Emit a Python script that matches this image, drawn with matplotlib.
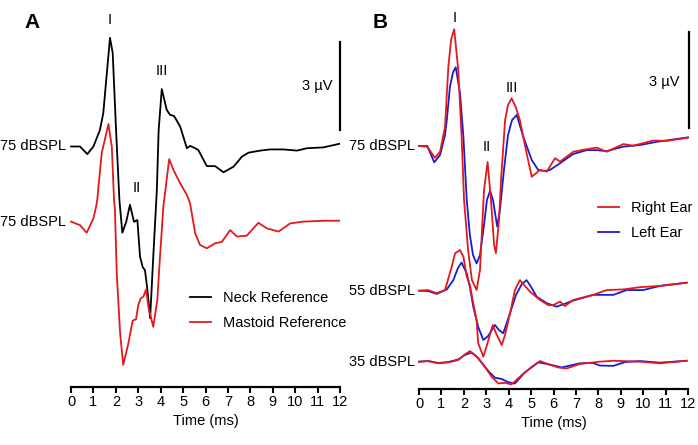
import matplotlib.pyplot as plt

plt.rcParams['font.family'] = ['Liberation Sans', 'DejaVu Sans']

# ---- Panel A: neck vs mastoid reference (75 dBSPL), time in ms, amplitude in uV
neck_t = [0.0, 0.40, 0.73, 1.00, 1.29, 1.44, 1.74, 1.86, 2.01, 2.16, 2.29, 2.46, 2.63, 2.81,
          2.96, 3.08, 3.20, 3.30, 3.41, 3.53, 3.67, 3.83, 3.91, 4.05, 4.27, 4.42, 4.60, 4.87,
          5.17, 5.31, 5.46, 5.68, 6.06, 6.43, 6.80, 7.25, 7.62, 7.92, 8.44, 8.88, 9.48, 10.08,
          10.52, 11.26, 11.96]
neck_v = [0.0, 0.0, -0.26, 0.0, 0.56, 1.14, 3.71, 3.19, 0.56, -1.83, -2.94, -2.58, -1.99, -2.57,
          -2.51, -3.76, -4.12, -4.22, -4.90, -5.86, -3.76, -1.48, 0.56, 1.96, 1.25, 1.08, 1.04, 0.68,
          -0.06, 0.02, -0.03, -0.12, -0.67, -0.67, -0.88, -0.69, -0.35, -0.21, -0.14, -0.10, -0.10, -0.14,
          -0.06, -0.03, 0.09]

mastoid_t = [0.0, 0.40, 0.70, 1.00, 1.12, 1.17, 1.37, 1.67, 1.82, 1.92, 1.96, 2.04, 2.19, 2.33,
             2.56, 2.75, 2.90, 3.00, 3.11, 3.23, 3.35, 3.45, 3.67, 3.85, 3.97, 4.12, 4.38, 4.57,
             4.87, 5.17, 5.31, 5.54, 5.76, 6.06, 6.43, 6.73, 7.10, 7.40, 7.84, 8.36, 8.74, 9.26,
             9.78, 10.37, 11.26, 11.96]
mastoid_v = [0.03, -0.09, -0.35, 0.14, 0.54, 0.77, 2.37, 3.36, 2.59, 0.77, 0.43, -1.72, -3.77, -4.86,
             -4.12, -3.35, -3.30, -2.82, -2.59, -2.53, -2.28, -2.87, -3.56, -2.65, -1.17, 0.54, 2.16, 1.79,
             1.34, 0.94, 0.66, -0.37, -0.77, -0.88, -0.71, -0.66, -0.26, -0.48, -0.45, -0.01, -0.20, -0.31,
             -0.03, 0.03, 0.06, 0.06]

# ---- Panel B: right vs left ear at three levels
r75_t = [0.0, 0.37, 0.71, 0.94, 1.16, 1.31, 1.43, 1.57, 1.75, 1.90, 2.01, 2.19, 2.36, 2.57, 2.72,
         2.90, 3.06, 3.21, 3.35, 3.43, 3.57, 3.66, 3.84, 3.97, 4.13, 4.33, 4.50, 4.80, 5.03, 5.40,
         5.70, 6.07, 6.29, 6.88, 7.48, 7.93, 8.37, 9.11, 9.56, 10.45, 11.05, 12.0]
r75_v = [0.0, -0.02, -0.37, -0.18, 0.60, 2.48, 3.31, 3.65, 2.38, 0.29, -1.69, -3.25, -4.19, -4.50, -3.88,
         -1.38, -0.50, -1.69, -3.09, -3.35, -2.31, -1.06, 0.81, 1.28, 1.49, 1.19, 0.81, -0.23, -0.96, -0.75,
         -0.80, -0.38, -0.49, -0.18, -0.10, -0.05, -0.18, 0.06, 0.01, 0.17, 0.16, 0.26]
l75_t = [0.0, 0.37, 0.68, 0.94, 1.16, 1.24, 1.38, 1.52, 1.64, 1.83, 1.98, 2.13, 2.27, 2.41, 2.57,
         2.72, 2.90, 3.03, 3.17, 3.30, 3.49, 3.61, 3.79, 3.97, 4.15, 4.36, 4.65, 5.03, 5.32, 5.62,
         5.84, 6.29, 6.88, 7.48, 7.93, 8.37, 9.11, 9.86, 10.60, 12.0]
l75_v = [0.0, 0.0, -0.51, -0.28, 0.34, 0.81, 1.85, 2.31, 2.46, 1.65, 0.29, -1.69, -2.78, -3.41, -3.67,
         -3.41, -2.47, -1.69, -1.40, -1.69, -2.52, -2.00, -0.75, 0.34, 0.81, 0.97, 0.29, -0.44, -0.75, -0.78,
         -0.75, -0.54, -0.25, -0.13, -0.13, -0.16, -0.02, 0.03, 0.13, 0.27]

r55_t = [0.0, 0.40, 0.79, 1.16, 1.46, 1.61, 1.83, 1.98, 2.13, 2.27, 2.42, 2.57, 2.64, 2.87, 3.03,
         3.29, 3.43, 3.69, 3.84, 4.06, 4.28, 4.50, 4.95, 5.40, 5.77, 5.99, 6.29, 6.51, 6.88, 7.77,
         8.37, 9.11, 9.86, 10.75, 11.94]
r55_v = [0.0, 0.02, -0.08, 0.02, 0.75, 1.17, 1.27, 1.06, 0.44, 0.18, -0.39, -0.92, -1.64, -2.06, -1.70,
         -1.07, -1.32, -1.70, -1.38, -0.71, 0.02, 0.33, -0.03, -0.29, -0.45, -0.45, -0.34, -0.48, -0.29, -0.13,
         0.02, 0.04, 0.11, 0.15, 0.25]
l55_t = [0.0, 0.40, 0.79, 1.24, 1.53, 1.74, 1.90, 2.13, 2.27, 2.42, 2.64, 2.87, 3.08, 3.39, 3.57,
         3.76, 4.06, 4.33, 4.59, 4.80, 5.00, 5.25, 5.70, 6.14, 6.88, 7.77, 8.67, 9.26, 10.00, 10.75, 11.94]
l55_v = [0.0, -0.01, -0.10, 0.04, 0.33, 0.71, 0.88, 0.54, 0.12, -0.50, -1.13, -1.54, -1.42, -1.07, -1.23,
         -1.33, -0.70, -0.13, 0.21, 0.33, 0.12, -0.19, -0.39, -0.50, -0.31, -0.13, -0.13, 0.02, 0.02, 0.15, 0.25]

r35_t = [0.0, 0.41, 0.86, 1.31, 1.75, 2.05, 2.27, 2.57, 2.94, 3.24, 3.54, 3.84, 4.13, 4.58, 5.03,
         5.40, 5.77, 6.21, 6.59, 7.18, 8.07, 8.67, 9.86, 10.75, 11.94]
r35_v = [0.0, 0.02, -0.05, -0.02, 0.05, 0.23, 0.33, 0.16, -0.16, -0.47, -0.68, -0.66, -0.71, -0.42, -0.16,
         0.02, -0.08, -0.18, -0.21, -0.07, 0.0, 0.03, 0.0, -0.05, 0.03]
l35_t = [0.0, 0.41, 0.86, 1.31, 1.75, 2.05, 2.35, 2.63, 3.09, 3.39, 3.69, 3.98, 4.28, 4.73, 5.32,
         5.84, 6.36, 7.18, 7.76, 8.07, 8.67, 9.19, 9.86, 10.75, 11.94]
l35_v = [0.0, 0.02, -0.04, -0.01, 0.07, 0.21, 0.29, 0.12, -0.29, -0.50, -0.54, -0.64, -0.68, -0.33, -0.02,
         -0.09, -0.18, -0.05, -0.04, -0.12, -0.13, -0.01, 0.02, -0.03, 0.03]

ticks = list(range(0, 13))
RED = '#e3191c'
BLUE = '#1b1bd0'

fig = plt.figure(figsize=(6.98, 4.45), dpi=100)
W, H = 698, 445

def style_axis(ax):
    for s in ['left', 'right', 'top']:
        ax.spines[s].set_visible(False)
    ax.spines['bottom'].set_linewidth(1.6)
    ax.set_yticks([])
    ax.set_xlim(0, 12)
    ax.set_xticks(ticks)
    ax.tick_params(axis='x', direction='out', length=4, width=1.5, pad=2, labelsize=10.5)
    ax.set_xlabel('Time (ms)', fontsize=10.5, labelpad=3)
    ax.patch.set_alpha(0)

# ---- Panel A
axA = fig.add_axes([71 / W, (H - 387) / H, 269 / W, 387 / H])
style_axis(axA)
sA = 29.3
axA.set_ylim(0, 387 / sA)
offA = [(387 - 146.5) / sA, (387 - 222.5) / sA]
axA.plot(neck_t, [v + offA[0] for v in neck_v], color='black', lw=1.3, label='Neck Reference', clip_on=False)
axA.plot(mastoid_t, [v + offA[1] for v in mastoid_v], color=RED, lw=1.3, label='Mastoid Reference', clip_on=False)
for o in offA:
    axA.text(-0.22, o, '75 dBSPL', ha='right', va='center', fontsize=10.5)
axA.plot([12, 12], [(387 - 130) / sA, (387 - 130) / sA + 3], color='black', lw=1.6, clip_on=False)
axA.text(11.65, (387 - 86) / sA, '3 µV', ha='right', va='center', fontsize=10.5)
axA.text(1.74, (387 - 20) / sA, 'I', ha='center', va='center', fontsize=10.5)
axA.text(2.95, (387 - 188) / sA, 'II', ha='center', va='center', fontsize=10.5)
axA.text(4.06, (387 - 71) / sA, 'III', ha='center', va='center', fontsize=10.5)
axA.legend(loc='upper left', bbox_to_anchor=((183 - 71) / 269, (387 - 284) / 387), frameon=False,
           fontsize=10.5, handlelength=1.45, handletextpad=0.8, labelspacing=0.75, borderpad=0)

# ---- Panel B
axB = fig.add_axes([419 / W, (H - 389) / H, 269 / W, 389 / H])
style_axis(axB)
sB = 32.0
axB.set_ylim(0, 389 / sB)
offB = [(389 - 146) / sB, (389 - 290.7) / sB, (389 - 361.7) / sB]
levels = ['75 dBSPL', '55 dBSPL', '35 dBSPL']
right = [(r75_t, r75_v), (r55_t, r55_v), (r35_t, r35_v)]
left = [(l75_t, l75_v), (l55_t, l55_v), (l35_t, l35_v)]
for i, o in enumerate(offB):
    lt, lv = left[i]
    rt, rv = right[i]
    axB.plot(lt, [v + o for v in lv], color=BLUE, lw=1.3, label='Left Ear' if i == 0 else None, clip_on=False)
    axB.plot(rt, [v + o for v in rv], color=RED, lw=1.3, label='Right Ear' if i == 0 else None, clip_on=False)
    axB.text(-0.18, o, levels[i], ha='right', va='center', fontsize=10.5)
axB.plot([12.05, 12.05], [(389 - 128) / sB, (389 - 128) / sB + 3], color='black', lw=1.6, clip_on=False)
axB.text(11.64, (389 - 82) / sB, '3 µV', ha='right', va='center', fontsize=10.5)
axB.text(1.57, (389 - 18) / sB, 'I', ha='center', va='center', fontsize=10.5)
axB.text(3.02, (389 - 147) / sB, 'II', ha='center', va='center', fontsize=10.5)
axB.text(4.13, (389 - 88) / sB, 'III', ha='center', va='center', fontsize=10.5)
h, l = axB.get_legend_handles_labels()
axB.legend([h[1], h[0]], [l[1], l[0]], loc='upper left',
           bbox_to_anchor=((591 - 419) / 269, (389 - 194) / 389), frameon=False,
           fontsize=10.5, handlelength=1.45, handletextpad=0.8, labelspacing=0.75, borderpad=0)

fig.text(32 / W, 1 - 23 / H, 'A', ha='center', va='center', fontsize=15, fontweight='bold')
fig.text(380 / W, 1 - 22 / H, 'B', ha='center', va='center', fontsize=15, fontweight='bold')

fig.savefig('out.png', dpi=100)
